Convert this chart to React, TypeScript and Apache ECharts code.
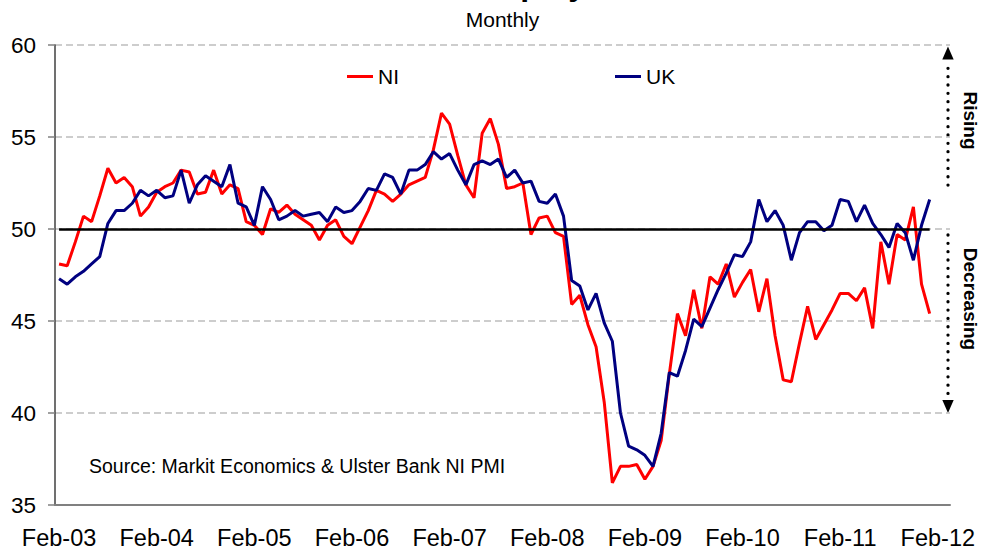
import React, { useEffect, useRef } from "react";
import * as echarts from "echarts";

// Month categories Feb-03 .. Mar-12 (data runs Feb-03 .. Jan-12)
const monthNames = ["Jan", "Feb", "Mar", "Apr", "May", "Jun", "Jul", "Aug", "Sep", "Oct", "Nov", "Dec"];
const categories: string[] = [];
for (let i = 0; i < 110; i++) {
  const m = (1 + i) % 12;
  const y = 3 + Math.floor((1 + i) / 12);
  categories.push(`${monthNames[m]}-${String(y).padStart(2, "0")}`);
}

const niValues = [
  48.1, 48.0, 49.3, 50.7, 50.4, 51.8, 53.3, 52.5, 52.8, 52.3, 50.7, 51.2,
  52.0, 52.3, 52.5, 53.2, 53.1, 51.9, 52.0, 53.2, 51.9, 52.4, 52.2, 50.4,
  50.2, 49.7, 51.1, 50.9, 51.3, 50.8, 50.5, 50.2, 49.4, 50.2, 50.5, 49.6,
  49.2, 50.1, 51.0, 52.1, 51.9, 51.5, 51.9, 52.4, 52.6, 52.8, 54.3, 56.3,
  55.7, 54.0, 52.4, 51.7, 55.2, 56.0, 54.6, 52.2, 52.3, 52.5, 49.7, 50.6,
  50.7, 49.8, 49.6, 45.9, 46.4, 44.8, 43.6, 40.6, 36.2, 37.1, 37.1, 37.2,
  36.4, 37.1, 38.5, 42.1, 45.4, 44.2, 46.7, 44.6, 47.4, 47.0, 48.1, 46.3,
  47.1, 47.8, 45.5, 47.3, 44.2, 41.8, 41.7, 43.8, 45.8, 44.0, 44.8, 45.6,
  46.5, 46.5, 46.1, 46.8, 44.6, 49.3, 47.0, 49.7, 49.4, 51.2, 47.0, 45.4,
];

const ukValues = [
  47.3, 47.0, 47.4, 47.7, 48.1, 48.5, 50.3, 51.0, 51.0, 51.4, 52.1, 51.8,
  52.1, 51.7, 51.8, 53.2, 51.4, 52.4, 52.9, 52.6, 52.3, 53.5, 51.4, 51.2,
  50.2, 52.3, 51.6, 50.5, 50.7, 51.0, 50.7, 50.8, 50.9, 50.4, 51.2, 50.9,
  51.0, 51.5, 52.2, 52.1, 53.0, 52.8, 51.9, 53.2, 53.2, 53.5, 54.2, 53.8,
  54.1, 53.2, 52.4, 53.5, 53.7, 53.5, 53.8, 52.8, 53.2, 52.5, 52.6, 51.5,
  51.4, 51.9, 50.7, 47.2, 46.9, 45.6, 46.5, 44.9, 43.9, 40.0, 38.2, 38.0,
  37.7, 37.1, 38.9, 42.2, 42.0, 43.4, 45.1, 44.7, 45.7, 46.7, 47.6, 48.6,
  48.5, 49.3, 51.6, 50.4, 51.0, 50.2, 48.3, 49.8, 50.4, 50.4, 49.9, 50.2,
  51.6, 51.5, 50.4, 51.3, 50.3, 49.7, 49.0, 50.3, 49.8, 48.3, 50.2, 51.6,
];

const yTicks = { min: 35, max: 60, interval: 5 };
const threshold = 50;

const FONT = "'Liberation Sans', Arial, Helvetica, sans-serif";

export default function App() {
  const ref = useRef<HTMLDivElement>(null);

  useEffect(() => {
    if (!ref.current) return;
    const chart = echarts.init(ref.current, undefined, { renderer: "svg" });
    const lastCat = categories[niValues.length - 1];

    chart.setOption({
      animation: false,
      grid: {
        left: 55,
        right: 32,
        top: 45,
        bottom: 44,
        containLabel: false,
        outerBoundsMode: "none",
      },
      legend: {
        data: ["NI", "UK"],
        left: 342,
        top: 61,
        icon: "rect",
        itemWidth: 26,
        itemHeight: 3,
        itemGap: 216,
        textStyle: { fontSize: 21, color: "#000", fontFamily: FONT },
      },
      xAxis: {
        type: "category",
        data: categories,
        boundaryGap: true,
        axisLine: { lineStyle: { color: "#808080", width: 2 } },
        axisTick: { interval: 11, length: 6, lineStyle: { color: "#808080", width: 1.5 } },
        axisLabel: {
          interval: 11,
          margin: 20.5,
          fontSize: 23.5,
          color: "#000",
          fontFamily: FONT,
        },
        splitLine: { show: false },
      },
      yAxis: {
        type: "value",
        min: yTicks.min,
        max: yTicks.max,
        interval: yTicks.interval,
        axisLine: { show: true, lineStyle: { color: "#404040", width: 1.5 } },
        axisTick: { show: true, length: 7, lineStyle: { color: "#808080", width: 1.5 } },
        axisLabel: { margin: 19, fontSize: 22.5, color: "#000", fontFamily: FONT },
        splitLine: { lineStyle: { type: [7, 4], color: "#bdbdbd", width: 1.5 } },
      },
      series: [
        {
          name: "base",
          type: "line",
          data: [],
          z: 1,
          silent: true,
          markLine: {
            silent: true,
            symbol: ["none", "none"],
            label: { show: false },
            lineStyle: { color: "#000", width: 2.5, type: "solid" },
            data: [[{ coord: [categories[0], threshold] }, { coord: [lastCat, threshold] }]],
          },
        },
        {
          name: "NI",
          type: "line",
          data: niValues,
          symbol: "none",
          z: 2,
          lineStyle: { color: "#ff0000", width: 3 },
          itemStyle: { color: "#ff0000" },
        },
        {
          name: "UK",
          type: "line",
          data: ukValues,
          symbol: "none",
          z: 3,
          lineStyle: { color: "#000080", width: 3 },
          itemStyle: { color: "#000080" },
        },
      ],
      graphic: [
        {
          type: "text",
          style: {
            text: "NI & UK Employment",
            x: 502.5,
            y: -16,
            align: "center",
            verticalAlign: "middle",
            fontSize: 32,
            fontWeight: "bold",
            fontFamily: FONT,
            fill: "#000",
          },
        },
        {
          type: "text",
          style: {
            text: "Monthly",
            x: 502.5,
            y: 19.4,
            align: "center",
            verticalAlign: "middle",
            fontSize: 21,
            fontFamily: FONT,
            fill: "#000",
          },
        },
        {
          type: "text",
          style: {
            text: "Source: Markit Economics & Ulster Bank NI PMI",
            x: 89,
            y: 465.5,
            align: "left",
            verticalAlign: "middle",
            fontSize: 19.5,
            fontFamily: FONT,
            fill: "#000",
          },
        },
        {
          type: "text",
          x: 970.5,
          y: 120.5,
          rotation: -Math.PI / 2,
          style: {
            text: "Rising",
            align: "center",
            verticalAlign: "middle",
            fontSize: 19,
            fontWeight: "bold",
            fontFamily: FONT,
            fill: "#000",
          },
        },
        {
          type: "text",
          x: 970.5,
          y: 299,
          rotation: -Math.PI / 2,
          style: {
            text: "Decreasing",
            align: "center",
            verticalAlign: "middle",
            fontSize: 19,
            fontWeight: "bold",
            fontFamily: FONT,
            fill: "#000",
          },
        },
        {
          type: "line",
          shape: { x1: 948, y1: 68.3, x2: 948, y2: 185.5 },
          style: { stroke: "#000", lineWidth: 3.3, lineDash: [0.01, 8.33], lineCap: "round" },
        },
        {
          type: "polygon",
          shape: { points: [[948, 46.5], [942.3, 59.5], [953.7, 59.5]] },
          style: { fill: "#000" },
        },
        {
          type: "line",
          shape: { x1: 948, y1: 235, x2: 948, y2: 397 },
          style: { stroke: "#000", lineWidth: 3.3, lineDash: [0.01, 8.33], lineCap: "round" },
        },
        {
          type: "polygon",
          shape: { points: [[948, 413], [942.3, 400], [953.7, 400]] },
          style: { fill: "#000" },
        },
      ],
    });

    return () => chart.dispose();
  }, []);

  return (
    <div
      ref={ref}
      style={{ position: "fixed", left: 0, top: 0, width: 982, height: 549, background: "#fff" }}
    />
  );
}
